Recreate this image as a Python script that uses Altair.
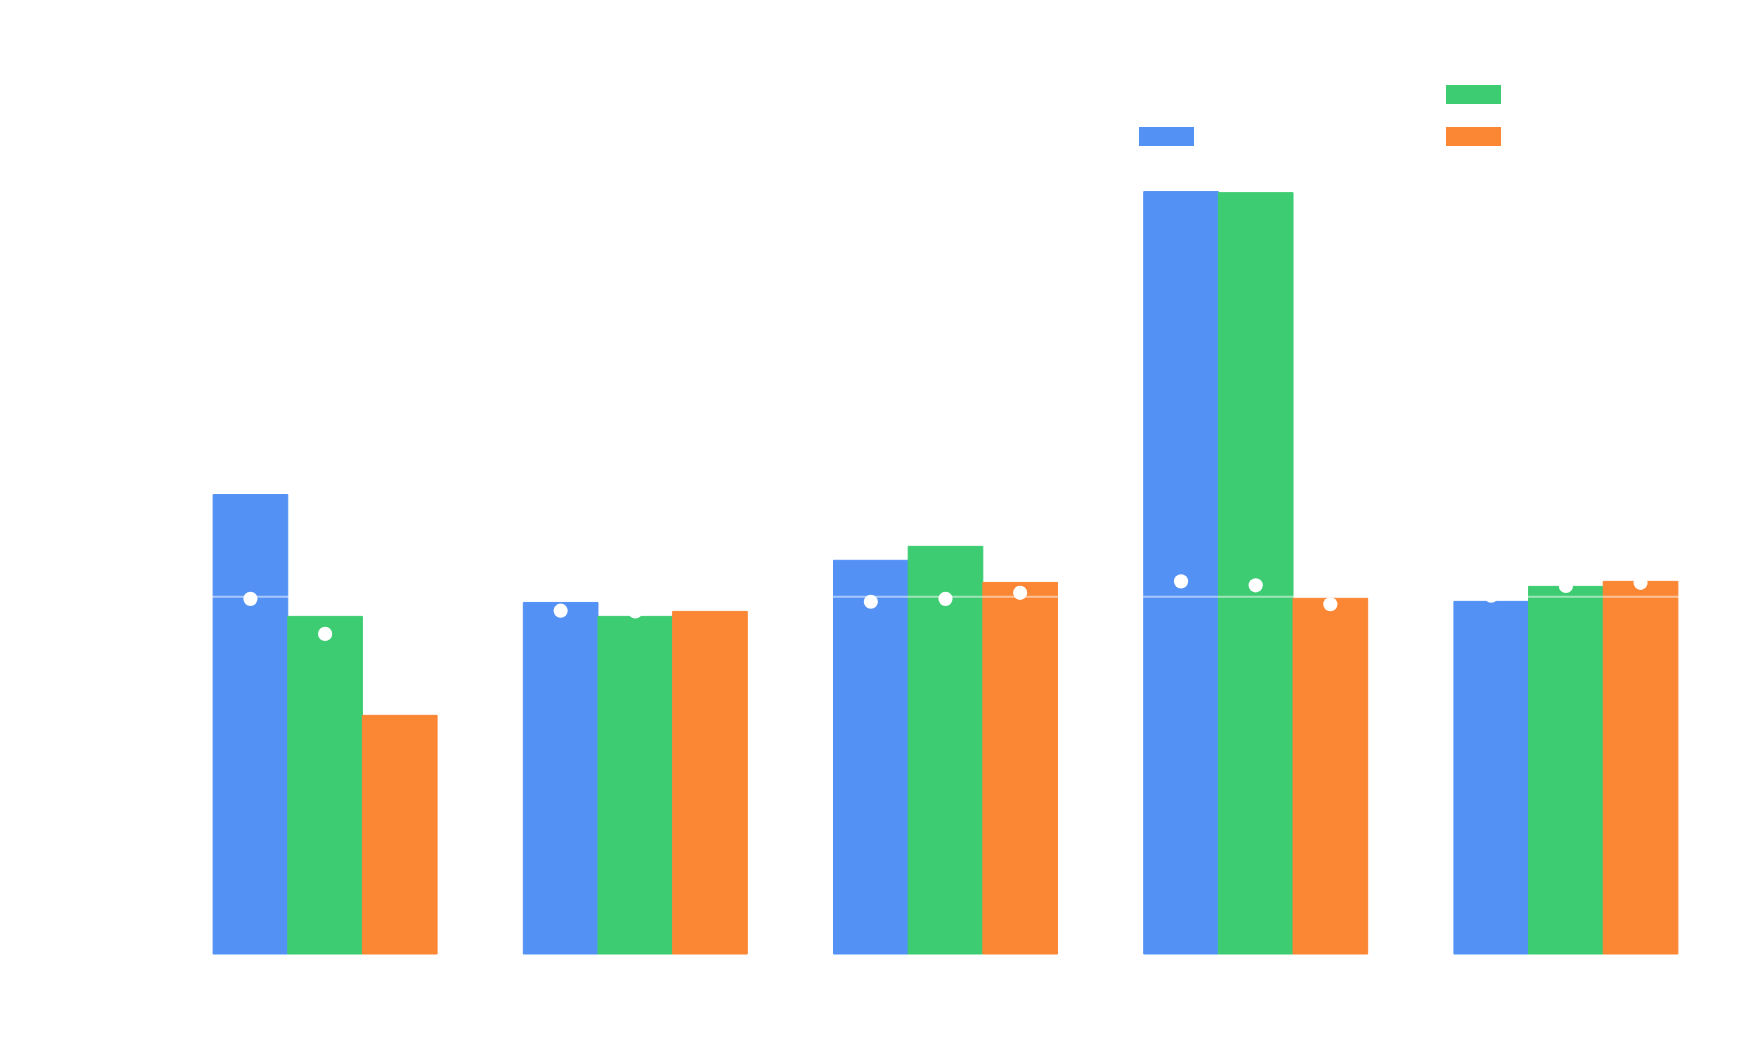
import altair as alt
import pandas as pd

# ---- data ----
groups = ["North", "South", "East", "West", "Central"]
series = ["Series A", "Series B", "Series C"]
legend_order = ["Reference", "Series A", "Series B", "Series C"]
legend_colors = ["#ffffff", "#5391f5", "#3ecc72", "#fb8634"]

bar_a = [128.6, 98.4, 110.2, 213.4, 98.7]
bar_b = [94.5, 94.5, 114.1, 213.1, 102.9]
bar_c = [66.8, 95.9, 104.0, 99.6, 104.3]

dot_a = [99.4, 96.1, 98.6, 104.3, 100.3]
dot_b = [89.6, 95.9, 99.4, 103.2, 103.0]
dot_c = [100.0, 99.5, 101.1, 97.9, 103.9]

reference_value = 100

rows = []
for i, g in enumerate(groups):
    for s, bv, dv in zip(series, [bar_a, bar_b, bar_c], [dot_a, dot_b, dot_c]):
        rows.append({"group": g, "series": s, "value": bv[i], "dot": dv[i]})
df = pd.DataFrame(rows)

W = "#ffffff"

x_enc = alt.X(
    "group:N",
    sort=groups,
    scale=alt.Scale(paddingInner=0.278, paddingOuter=0.139),
    axis=alt.Axis(title="Region", labelColor=W, titleColor=W, domainColor=W,
                  tickColor=W, labelFontSize=16, titleFontSize=18, labelAngle=0),
)
y_scale = alt.Scale(domain=[0, 220], nice=False)
xoff = alt.XOffset("series:N", sort=series, scale=alt.Scale(domain=series, paddingInner=0, paddingOuter=0))
color_scale = alt.Scale(domain=legend_order, range=legend_colors)

bars = alt.Chart(df).mark_bar(opacity=1, strokeWidth=1).encode(
    x=x_enc,
    xOffset=xoff,
    y=alt.Y("value:Q", scale=y_scale,
            axis=alt.Axis(title="Index (baseline = 100)", labelColor=W, titleColor=W,
                          domainColor=W, tickColor=W, grid=False,
                          labelFontSize=16, titleFontSize=18)),
    stroke=alt.Stroke("series:N", scale=color_scale, legend=None),
    color=alt.Color(
        "series:N",
        scale=color_scale,
        legend=alt.Legend(
            title=None,
            orient="none",
            legendX=969,
            legendY=-101,
            columns=2,
            symbolType="M-1,-0.345H1V0.345H-1Z",
            symbolSize=3025,
            symbolStrokeWidth=0,
            symbolOpacity=1,
            labelColor=W,
            labelFontSize=18,
            labelOffset=10,
            columnPadding=158,
            rowPadding=5,
            padding=0,
        ),
    ),
)

rule = alt.Chart(pd.DataFrame({"ref": [reference_value]})).mark_rule(
    color=W, opacity=0.5, strokeWidth=2
).encode(y=alt.Y("ref:Q", scale=y_scale))

dots = alt.Chart(df).mark_circle(color=W, opacity=1, size=201).encode(
    x=alt.X("group:N", sort=groups),
    xOffset=xoff,
    y=alt.Y("dot:Q", scale=y_scale),
)

chart = alt.layer(bars, rule, dots).properties(
    width=1551,
    height=786,
    title=alt.TitleParams("Performance index by region", color=W, fontSize=22),
    autosize=alt.AutoSizeParams(type="none"),
    padding={"left": 170, "top": 168, "right": 39, "bottom": 102},
    background="white",
).configure_view(stroke=None)

chart.save("out.html", embed_options={"renderer": "svg", "actions": False})
